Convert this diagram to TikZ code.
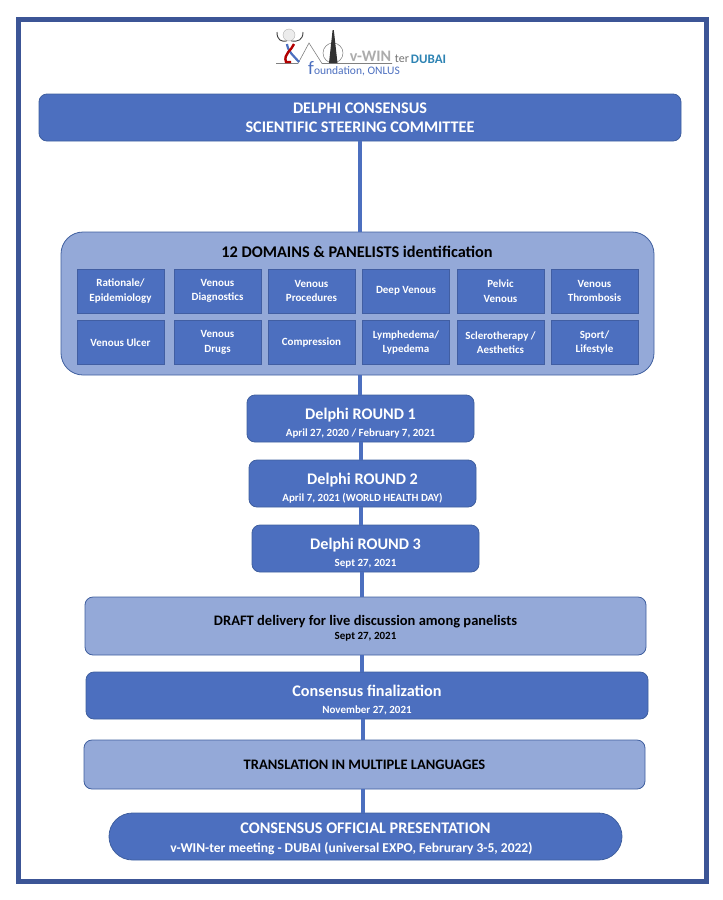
\documentclass[tikz,border=0pt]{standalone}
\usepackage{fontspec}
\setmainfont{Carlito}
\definecolor{dark_blue}{HTML}{4C6FBF}
\definecolor{light_blue}{HTML}{94A9D8}
\definecolor{edge_blue}{HTML}{3F5F9F}
\definecolor{frame_blue}{HTML}{3C5596}
\newcommand{\subline}[1]{{\fontsize{11}{13}\selectfont #1}}
\newcommand{\topgap}[1]{\rule{0pt}{#1pt}}
\begin{document}
\begin{tikzpicture}[x=1pt, y=-1pt,
   base_node_style/.style={draw=edge_blue, line width=0.8pt, align=center, inner sep=0pt, font=\bfseries\fontsize{16.2}{19}\selectfont},
   dark_style/.style={base_node_style, fill=dark_blue, text=white, rounded corners=8pt},
   light_style/.style={base_node_style, fill=light_blue, text=black, rounded corners=8pt},
   round_style/.style={dark_style, minimum width=227pt, minimum height=47pt, font=\bfseries\fontsize{16.2}{17}\selectfont},
   domain_style/.style={base_node_style, fill=dark_blue, text=white, draw=dark_blue!85!black, minimum width=87pt, minimum height=44pt, font=\bfseries\fontsize{11}{14.5}\selectfont},
   edge_style/.style={draw=dark_blue, line width=4pt}]
    \useasboundingbox (0,0) rectangle (723,900);
    \draw[frame_blue, line width=5pt] (18.5,19) rectangle (706,881);

    % logo
    \draw[gray, line width=0.6pt] (276,63.5) -- (298,63.5) -- (309,43) -- (322,63.5) -- (392,63.5);
    \draw[gray, line width=0.5pt] (333,53) circle (10);
    \fill[black!80] (332.6,30) -- (333.8,30) -- (337.5,63) -- (329,63) -- cycle;
    \draw[gray!60, fill=gray!15] (289,35) circle (6);
    \draw[black!75, line width=0.9pt] (277,32) .. controls (277,40) and (281,42) .. (287,41);
    \draw[black!75, line width=0.9pt] (303,32) .. controls (303,40) and (298,42) .. (291,41);
    \draw[dark_blue, line width=2.2pt] (287,44) .. controls (288,52) and (294,56) .. (299,62);
    \draw[red!70!black, line width=2.4pt] (294,44) .. controls (292,50) and (283,54) .. (286,62) -- (291,62);
    \node[inner sep=0pt, text=gray!65, font=\bfseries\fontsize{16}{16}\selectfont] (logo_win) at (370.5,56.5) {v-WIN};
    \node[inner sep=0pt, text=gray!90!black, font=\fontsize{12}{12}\selectfont] (logo_ter) at (402,59) {ter};
    \node[inner sep=0pt, text=dark_blue!70!cyan!85!black, font=\bfseries\fontsize{13}{13}\selectfont] (logo_dubai) at (428.5,59) {DUBAI};
    \node[inner sep=0pt, text=dark_blue, font=\fontsize{11.5}{11.5}\selectfont, anchor=base west] (logo_found) at (308,74) {{\fontsize{19}{19}\selectfont f}oundation, ONLUS};

    \node[dark_style, minimum width=642pt, minimum height=47pt] (committee) at (360,117.5) {DELPHI CONSENSUS\\SCIENTIFIC STEERING COMMITTEE};
    \node[light_style, rounded corners=22pt, minimum width=593pt, minimum height=143pt] (domains) at (357.5,303.5) {};
    \node[inner sep=0pt, font=\bfseries\fontsize{16.3}{19}\selectfont] (domains_title) at (357,252) {12 DOMAINS \& PANELISTS identification};

    \node[domain_style] (d1) at (120.5,291) {Rationale/\\Epidemiology};
    \node[domain_style] (d2) at (217.5,291) {Venous\\Diagnostics};
    \node[domain_style] (d3) at (311.5,291) {Venous\\Procedures};
    \node[domain_style] (d4) at (406,291) {Deep Venous};
    \node[domain_style] (d5) at (500.5,291) {Pelvic\\Venous};
    \node[domain_style] (d6) at (594.5,291) {Venous\\Thrombosis};
    \node[domain_style] (d7) at (120.5,342.5) {Venous Ulcer};
    \node[domain_style] (d8) at (217.5,342.5) {Venous\\Drugs};
    \node[domain_style] (d9) at (311.5,342.5) {Compression};
    \node[domain_style] (d10) at (406,342.5) {Lymphedema/\\Lypedema};
    \node[domain_style] (d11) at (500.5,342.5) {Sclerotherapy /\\Aesthetics};
    \node[domain_style] (d12) at (594.5,342.5) {Sport/\\Lifestyle};

    \node[round_style] (round1) at (360.5,418.5) {\topgap{20}Delphi ROUND 1\\\subline{April 27, 2020 / February 7, 2021}};
    \node[round_style] (round2) at (362.5,483.5) {\topgap{20}Delphi ROUND 2\\\subline{April 7, 2021 (WORLD HEALTH DAY)}};
    \node[round_style] (round3) at (365.5,548.5) {\topgap{20}Delphi ROUND 3\\\subline{Sept 27, 2021}};
    \node[light_style, minimum width=561pt, minimum height=58pt, font=\bfseries\fontsize{14.5}{13.5}\selectfont] (draft) at (365.5,626) {\topgap{15}DRAFT delivery for live discussion among panelists\\\subline{Sept 27, 2021}};
    \node[round_style, minimum width=562pt, font=\bfseries\fontsize{16.2}{16.5}\selectfont] (final) at (367,695.5) {\topgap{20}Consensus finalization\\\subline{November 27, 2021}};
    \node[light_style, minimum width=561pt, minimum height=49pt] (translation) at (364.5,764.5) {\raisebox{-1pt}{\fontsize{14.5}{18}\selectfont TRANSLATION IN MULTIPLE LANGUAGES}};
    \node[dark_style, rounded corners=23.5pt, minimum width=513pt, minimum height=47pt] (official) at (365.5,836.5) {\topgap{16}CONSENSUS OFFICIAL PRESENTATION\\{\fontsize{13.5}{19}\selectfont v-WIN-ter meeting - DUBAI (universal EXPO, Februrary 3-5, 2022)}\hspace*{28pt}};

    \path [edge_style] ([xshift=-0.5pt]committee.south) edge ([xshift=2pt]domains.north);
    \path [edge_style] ([xshift=2.5pt]domains.south) edge ([xshift=-0.5pt]round1.north);
    \path [edge_style] ([xshift=0.2pt]round1.south) edge ([xshift=-1.8pt]round2.north);
    \path [edge_style] ([xshift=-1.2pt]round2.south) edge ([xshift=-4.2pt]round3.north);
    \path [edge_style] ([xshift=-3.8pt]round3.south) edge ([xshift=-3.8pt]draft.north);
    \path [edge_style] ([xshift=-3.5pt]draft.south) edge ([xshift=-5pt]final.north);
    \path [edge_style] ([xshift=-4.3pt]final.south) edge ([xshift=-1.8pt]translation.north);
    \path [edge_style] ([xshift=-1.2pt]translation.south) edge ([xshift=-2.2pt]official.north);
\end{tikzpicture}
\end{document}
